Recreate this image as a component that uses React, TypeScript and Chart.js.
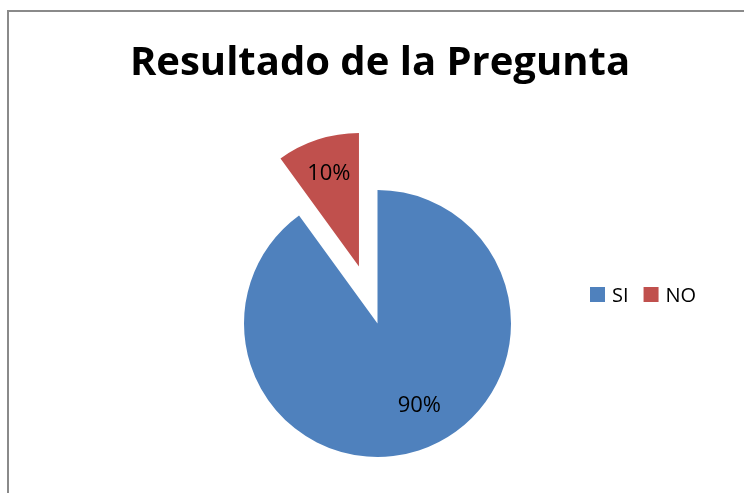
import React, { useEffect, useRef } from "react";
import { Chart, ArcElement, PieController } from "chart.js";

Chart.register(PieController, ArcElement);

const TITLE = "Resultado de la Pregunta";
const CATEGORIES = ["SI", "NO"];
const VALUES = [90, 10];
const COLORS = ["#4F81BD", "#C0504D"];

// styling constants (not data)
const EXPLODE = [0, 60];
const LABEL_RADIUS = [0.69, 0.73];
const LABEL_ANGLE_SHIFT = [-9, 0];
const FONT = "'Open Sans', Lato, sans-serif";

const explodePlugin = {
  id: "explodeSlices",
  afterDatasetsUpdate(chart: any) {
    const meta = chart.getDatasetMeta(0);
    meta.data.forEach((arc: any, i: number) => {
      const d = EXPLODE[i] || 0;
      if (!d) return;
      const mid = (arc.startAngle + arc.endAngle) / 2;
      arc.x += Math.cos(mid) * d;
      arc.y += Math.sin(mid) * d;
    });
  },
};

const framePlugin = {
  id: "frameAndTitle",
  beforeDraw(chart: any) {
    const ctx = chart.ctx;
    ctx.save();
    ctx.fillStyle = "#ffffff";
    ctx.fillRect(0, 0, chart.width, chart.height);
    ctx.strokeStyle = "#8a8a8a";
    ctx.lineWidth = 2;
    ctx.strokeRect(8, 11, 900, 700);
    ctx.fillStyle = "#000000";
    ctx.font = `bold 40px ${FONT}`;
    ctx.textAlign = "center";
    ctx.textBaseline = "alphabetic";
    ctx.fillText(TITLE, 380, 75);
    ctx.restore();
  },
};

const labelPlugin = {
  id: "sliceLabelsAndLegend",
  afterDatasetsDraw(chart: any) {
    const ctx = chart.ctx;
    const meta = chart.getDatasetMeta(0);
    const data = chart.data.datasets[0].data as number[];
    const total = data.reduce((a, b) => a + b, 0);
    ctx.save();
    ctx.fillStyle = "#000000";
    ctx.font = `22px ${FONT}`;
    ctx.textAlign = "center";
    ctx.textBaseline = "middle";
    meta.data.forEach((arc: any, i: number) => {
      const mid =
        (arc.startAngle + arc.endAngle) / 2 +
        (LABEL_ANGLE_SHIFT[i] * Math.PI) / 180;
      const r = arc.outerRadius * LABEL_RADIUS[i];
      const x = arc.x + Math.cos(mid) * r;
      const y = arc.y + Math.sin(mid) * r;
      ctx.fillText(`${Math.round((data[i] / total) * 100)}%`, x, y);
    });

    // legend
    const labels = chart.data.labels as string[];
    const colors = chart.data.datasets[0].backgroundColor as string[];
    let x = 590;
    const y = 287;
    const box = 15;
    ctx.font = `20px ${FONT}`;
    ctx.textAlign = "left";
    ctx.textBaseline = "alphabetic";
    labels.forEach((lab, i) => {
      ctx.fillStyle = colors[i];
      ctx.fillRect(x, y, box, box);
      ctx.fillStyle = "#000000";
      ctx.fillText(lab, x + box + 7, y + 15);
      x += box + 7 + ctx.measureText(lab).width + 15;
    });
    ctx.restore();
  },
};

export default function App() {
  const ref = useRef<HTMLCanvasElement | null>(null);
  useEffect(() => {
    if (!ref.current) return;
    const chart = new Chart(ref.current, {
      type: "pie",
      data: {
        labels: CATEGORIES,
        datasets: [
          {
            data: VALUES,
            backgroundColor: COLORS,
            borderWidth: 0,
            hoverOffset: 0,
            offset: 0,
            clip: false as any,
          },
        ],
      },
      options: {
        responsive: false,
        animation: false,
        events: [],
        layout: {
          padding: { top: 190, bottom: 36, left: 177.5, right: 166.5 },
        },
        plugins: {
          legend: { display: false },
          title: { display: false },
          tooltip: { enabled: false },
        },
      },
      plugins: [framePlugin, explodePlugin, labelPlugin],
    });
    return () => chart.destroy();
  }, []);
  return (
    <div
      style={{
        position: "fixed",
        left: 0,
        top: 0,
        width: 744,
        height: 493,
        background: "#fff",
      }}
    >
      <canvas
        ref={ref}
        width={744}
        height={493}
        style={{ display: "block", width: 744, height: 493 }}
      />
    </div>
  );
}
